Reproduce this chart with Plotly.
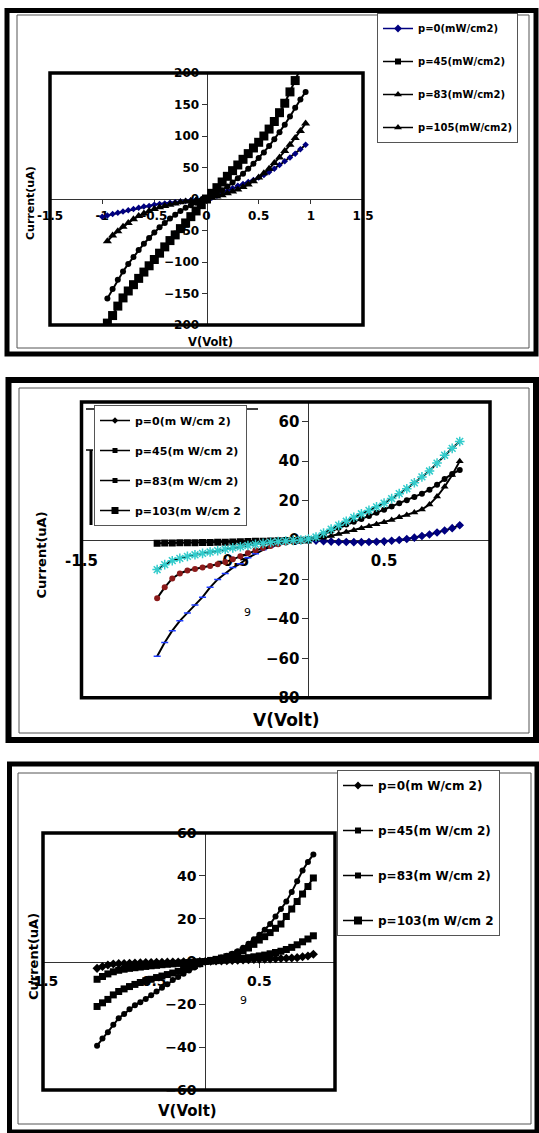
import plotly.graph_objects as go

W, H = 539, 1133
FONT = "DejaVu Sans"

# ---------------- data ----------------
# Panel 1
V1 = [-1.00, -0.95, -0.90, -0.85, -0.80, -0.75, -0.70, -0.65, -0.60, -0.55,
      -0.50, -0.45, -0.40, -0.35, -0.30, -0.25, -0.20, -0.15, -0.10, -0.05,
      0.00, 0.05, 0.10, 0.15, 0.20, 0.25, 0.30, 0.35, 0.40, 0.45,
      0.50, 0.55, 0.60, 0.65, 0.70, 0.75, 0.80, 0.85, 0.90, 0.95]
I1_p0 = [-28, -26, -24, -22, -20, -18, -16, -14, -12, -11,
         -9, -8, -7, -6, -5, -4, -3, -2, -1.5, -0.7,
         0, 2, 5, 9, 13, 17, 21, 24, 27, 30,
         34, 38, 43, 48, 54, 60, 66, 72, 79, 86]
I1_p45 = [None, -197, -185, -170, -157, -146, -136, -126, -116, -106,
          -96, -86, -76, -66, -57, -47, -38, -28, -19, -9,
          0, 9, 18, 27, 36, 45, 54, 63, 72, 81,
          90, 100, 111, 123, 137, 152, 170, 188, 207, None]
I1_p83 = [None, -67, -58, -51, -44, -38, -32, -27, -23, -19,
          -16, -13, -11, -9, -7, -5, -4, -3, -2, -1,
          0, 2, 4, 6, 9, 12, 15, 19, 23, 28,
          34, 41, 48, 57, 66, 76, 86, 97, 108, 120]
I1_p105 = [None, -158, -143, -128, -115, -103, -92, -81, -71, -62,
           -53, -45, -38, -31, -25, -19, -14, -10, -6, -3,
           0, 4, 9, 14, 20, 26, 33, 40, 48, 56,
           65, 74, 84, 95, 106, 118, 131, 145, 158, 170]
LEG1 = ["p=0(mW/cm2)", "p=45(mW/cm2)", "p=83(mW/cm2)", "p=105(mW/cm2)"]

# Panel 2
V2 = [-1.00, -0.95, -0.90, -0.85, -0.80, -0.75, -0.70, -0.65, -0.60, -0.55,
      -0.50, -0.45, -0.40, -0.35, -0.30, -0.25, -0.20, -0.15, -0.10, -0.05,
      0.00, 0.05, 0.10, 0.15, 0.20, 0.25, 0.30, 0.35, 0.40, 0.45,
      0.50, 0.55, 0.60, 0.65, 0.70, 0.75, 0.80, 0.85, 0.90, 0.95, 1.00]
I2_p0 = [-59, -52, -46, -41, -37, -33, -29, -24, -20, -17,
         -14, -12, -9, -7, -5, -3.5, -2.3, -1.4, -0.8, -0.3,
         0, -0.3, -0.6, -0.8, -1, -1, -1.1, -1.1, -1, -0.9,
         -0.7, -0.4, 0, 0.5, 1.2, 2, 2.8, 3.8, 4.8, 6, 7.5]
I2_p45 = [-15, -12.5, -10.5, -9.3, -8.3, -7.5, -6.8, -6.1, -5.4, -4.7,
          -4, -3.4, -2.8, -2.2, -1.7, -1.2, -0.8, -0.5, -0.2, 0,
          0.5, 1.5, 3.5, 5.5, 7.5, 9.5, 11.5, 13.3, 15, 16.8,
          18.7, 21, 23.5, 26, 29, 32, 35, 39, 43, 46.5, 50]
I2_p83 = [-29.5, -24, -19.5, -17, -15.5, -14.7, -14, -13.2, -12.3, -11.2,
          -9.8, -8.2, -6.6, -5.2, -4, -3, -2.1, -1.3, -0.7, -0.2,
          0.3, 1.2, 2.8, 4.5, 6.2, 7.8, 9.3, 10.7, 12.2, 13.8,
          15.4, 17, 18.6, 20.2, 21.8, 23.5, 25.5, 28, 31, 33.5, 35.5]
I2_p103 = [-1.6, -1.55, -1.5, -1.45, -1.4, -1.35, -1.3, -1.25, -1.2, -1.1,
           -1.0, -0.9, -0.8, -0.7, -0.6, -0.5, -0.4, -0.3, -0.2, -0.1,
           0, 0.5, 1.2, 2, 3, 4, 5, 6, 7, 8,
           9, 10.2, 11.5, 12.7, 14, 15.5, 18, 22, 27, 33, 40]
LEG2 = ["p=0(m W/cm 2)", "p=45(m W/cm 2)", "p=83(m W/cm 2)", "p=103(m W/cm 2"]

# Panel 3
V3 = V2
I3_p0 = [-3.2, -2.3, -1.6, -1.2, -1.0, -0.9, -0.8, -0.7, -0.6, -0.5,
         -0.45, -0.4, -0.35, -0.3, -0.25, -0.2, -0.15, -0.1, -0.05, 0,
         0, 0.1, 0.2, 0.3, 0.4, 0.5, 0.6, 0.7, 0.8, 0.9,
         1.0, 1.1, 1.2, 1.3, 1.4, 1.5, 1.6, 1.8, 2.2, 2.6, 3.4]
I3_p45 = [-8.3, -7, -5.8, -4.8, -4.1, -3.6, -3.2, -2.9, -2.6, -2.3,
          -2.0, -1.8, -1.5, -1.3, -1.1, -0.9, -0.7, -0.5, -0.3, -0.1,
          0, 0.2, 0.4, 0.6, 0.8, 1.0, 1.2, 1.5, 1.8, 2.2,
          2.6, 3.0, 3.6, 4.2, 4.8, 5.6, 6.6, 7.8, 9.2, 10.5, 12]
I3_p83 = [-21, -19.3, -17.7, -15.6, -14, -12.8, -11.7, -10.7, -9.8, -9.0,
          -8.3, -7.5, -6.8, -6.1, -5.4, -4.6, -3.7, -2.8, -1.9, -1.0,
          0, 0.5, 1.0, 1.6, 2.2, 3.0, 3.9, 5.0, 6.3, 8.0,
          10.0, 11.6, 13.5, 15.5, 17.5, 21, 24.5, 28, 31.5, 35, 39]
I3_p103 = [-39.3, -36, -33, -29.5, -26.5, -24.5, -22.3, -20.4, -19, -17.5,
           -15.8, -14, -12.3, -10.6, -8.6, -7.2, -5.7, -4.2, -2.8, -1.4,
           0, 0.6, 1.2, 1.9, 2.7, 3.6, 4.8, 6.4, 8.3, 10.4,
           12.5, 14.8, 17.5, 21, 24.5, 28, 32.5, 37.5, 42.5, 46.5, 50]
LEG3 = ["p=0(m W/cm 2)", "p=45(m W/cm 2)", "p=83(m W/cm 2)", "p=103(m W/cm 2"]

X_TICKS1 = [-1.5, -1, -0.5, 0, 0.5, 1, 1.5]
X_TICKS23 = [-1.5, -0.5, 0.5]

# ---------------- helpers ----------------
def fx(x):
    return x / W

def fy(y):
    return 1 - y / H

fig = go.Figure()

# panel geometry in pixels: (left, top, right, bottom)
P = {
    1: dict(box=(50, 73, 363, 325), xr=[-1.5, 1.5], yr=[-200, 200], xt=X_TICKS1, dy=50, tf=12, tl=5),
    2: dict(box=(81.5, 402, 490, 697.7), xr=[-1.5, 1.2], yr=[-80, 70], xt=X_TICKS23, dy=20, tf=15, tl=6),
    3: dict(box=(43, 833, 335, 1090), xr=[-1.5, 1.2], yr=[-60, 60], xt=X_TICKS23, dy=20, tf=14, tl=6),
}

for i, p in P.items():
    l, t, r, b = p["box"]
    xd = [fx(l), fx(r)]
    yd = [fy(b), fy(t)]
    x0, x1 = p["xr"]
    y0, y1 = p["yr"]
    xpos = xd[0] + (0 - x0) / (x1 - x0) * (xd[1] - xd[0])
    ypos = yd[0] + (0 - y0) / (y1 - y0) * (yd[1] - yd[0])
    sfx = "" if i == 1 else str(i)
    tickfont = dict(family=FONT, size=p["tf"], color="black", weight="bold")
    fig.layout["xaxis" + sfx] = dict(
        domain=xd, range=p["xr"], anchor="free", position=ypos, automargin=False,
        showline=True, linecolor="#333", linewidth=1, ticks="outside",
        ticklen=p["tl"] - 1, tickcolor="#333", tickvals=p["xt"],
        ticktext=[("%g" % v) for v in p["xt"]], tickfont=tickfont,
        showgrid=False, zeroline=False, layer="below traces", ticklabelstandoff=2)
    fig.layout["yaxis" + sfx] = dict(
        domain=yd, range=p["yr"], anchor="free", position=xpos, automargin=False,
        showline=True, linecolor="#333", linewidth=1, ticks="outside",
        ticklen=p["tl"], tickcolor="#333", dtick=p["dy"], tick0=0,
        tickfont=tickfont, showgrid=False, zeroline=False, layer="below traces")
    # thick plot-area border
    fig.add_shape(type="rect", xref=("x" + sfx + " domain"), yref=("y" + sfx + " domain"),
                  x0=0, x1=1, y0=0, y1=1, line=dict(color="black", width=3.5), layer="above")

# ---------------- traces ----------------
def series(x, y, ax, marker, line_color="black", lw=2):
    fig.add_trace(go.Scatter(x=x, y=y, xaxis="x" + ax, yaxis="y" + ax, mode="lines+markers",
                             line=dict(color=line_color, width=lw), marker=marker,
                             showlegend=False, hoverinfo="skip"))

def legend_entry(name, leg, grp, marker, line_color="black"):
    fig.add_trace(go.Scatter(x=[None], y=[None], mode="lines+markers", name=name,
                             legend=leg, legendgroup=grp,
                             line=dict(color=line_color, width=1.5), marker=marker))

# panel 1
series(V1, I1_p0, "", dict(symbol="diamond", size=5, color="#000080"))
series(V1, I1_p83, "", dict(symbol="triangle-up", size=8, color="black"))
series(V1, I1_p105, "", dict(symbol="circle", size=6, color="black"))
series(V1, I1_p45, "", dict(symbol="square", size=9, color="black"))
leg1_markers = [dict(symbol="diamond", size=6, color="#000080"),
                dict(symbol="square", size=6, color="black"),
                dict(symbol="triangle-up", size=7, color="black"),
                dict(symbol="triangle-up", size=7, color="black")]
leg1_lines = ["#000080", "black", "black", "black"]
for k, name in enumerate(LEG1):
    legend_entry(name, "legend", "a%d" % k, leg1_markers[k], leg1_lines[k])

# panel 2
series(V2, I2_p0, "2", dict(symbol=["line-ew" if v < 0 else "diamond" for v in V2], size=5,
                            color="#000080",
                            line=dict(color=["#1E3CFF" if v < 0 else "#000080" for v in V2], width=1.5)))
series(V2, I2_p103, "2", dict(symbol=["square" if v <= 0 else "triangle-up" for v in V2], size=7,
                              color="black"))
series(V2, I2_p83, "2", dict(symbol="circle", size=6,
                             color=["#8B1A1A" if v < 0 else "black" for v in V2]))
series(V2, I2_p45, "2", dict(symbol="asterisk-open", size=8, color="#33CCCC",
                             line=dict(color="#33CCCC", width=1.5)))
leg2_markers = [dict(symbol="diamond", size=5, color="black"),
                dict(symbol="square", size=5, color="black"),
                dict(symbol="square", size=5, color="black"),
                dict(symbol="square", size=7, color="black")]
for k, name in enumerate(LEG2):
    legend_entry(name, "legend2", "b%d" % k, leg2_markers[k])

# panel 3
series(V3, I3_p0, "3", dict(symbol="diamond", size=7, color="black"))
series(V3, I3_p45, "3", dict(symbol="square", size=7, color="black"))
series(V3, I3_p83, "3", dict(symbol="square", size=7, color="black"))
series(V3, I3_p103, "3", dict(symbol="circle", size=6, color="black"))
leg3_markers = [dict(symbol="diamond", size=6, color="black"),
                dict(symbol="square", size=6, color="black"),
                dict(symbol="square", size=6, color="black"),
                dict(symbol="square", size=8, color="black")]
for k, name in enumerate(LEG3):
    legend_entry(name, "legend3", "c%d" % k, leg3_markers[k])

# ---------------- legends ----------------
def legend_cfg(x, y, size, gap):
    return dict(x=fx(x), y=fy(y), xanchor="left", yanchor="top", bgcolor="white",
                bordercolor="#555", borderwidth=1, traceorder="grouped", tracegroupgap=gap,
                font=dict(family=FONT, size=size, color="black", weight="bold"),
                itemsizing="trace")

fig.update_layout(
    template="none",
    width=W, height=H, margin=dict(l=0, r=0, t=0, b=0, pad=0, autoexpand=False),
    paper_bgcolor="white", plot_bgcolor="white",
    legend=legend_cfg(377, 13, 10, 14),
    legend2=legend_cfg(94, 405, 11, 11),
    legend3=legend_cfg(337, 770, 12, 26),
)

# ---------------- frames ----------------
def rect(l, t, r, b, w, c="black"):
    fig.add_shape(type="rect", xref="paper", yref="paper", x0=fx(l), x1=fx(r), y0=fy(b), y1=fy(t),
                  line=dict(color=c, width=w), layer="below")

def seg(xa, ya, xb, yb, w, c="black"):
    fig.add_shape(type="line", xref="paper", yref="paper", x0=fx(xa), x1=fx(xb), y0=fy(ya), y1=fy(yb),
                  line=dict(color=c, width=w), layer="above")

rect(7, 10.5, 536, 354, 5)
rect(17, 15, 529, 348, 1, "#555")
rect(8.5, 380, 536, 740, 6)
rect(19, 388, 529, 733, 1, "#555")
rect(9.5, 764, 537, 1132, 5)
rect(18, 773, 531, 1124, 1, "#555")
# stray lines near the panel-2 legend
seg(86, 409, 258, 409, 1.5)
seg(91, 450, 91, 525, 3)
seg(86, 450, 93, 450, 1.5)

# ---------------- text ----------------
def text(x, y, s, size, bold=True, angle=0):
    fig.add_annotation(x=fx(x), y=fy(y), xref="paper", yref="paper", text=s, showarrow=False,
                       textangle=angle, xanchor="center", yanchor="middle",
                       font=dict(family=FONT, size=size, color="black",
                                 weight="bold" if bold else "normal"))

text(210, 342, "V(Volt)", 11.5)
text(31, 203, "Current(uA)", 11, angle=-90)
text(286, 720, "V(Volt)", 17)
text(40.5, 555, "Current(uA)", 13, angle=-90)
text(188, 1111, "V(Volt)", 15)
text(33, 957, "Current(uA)", 13, angle=-90)
text(247, 612, "9", 11, bold=False)
text(243, 1000, "9", 11, bold=False)

fig.write_html("out.html", config={"displayModeBar": False},
               post_script="document.body.style.margin='0';")
